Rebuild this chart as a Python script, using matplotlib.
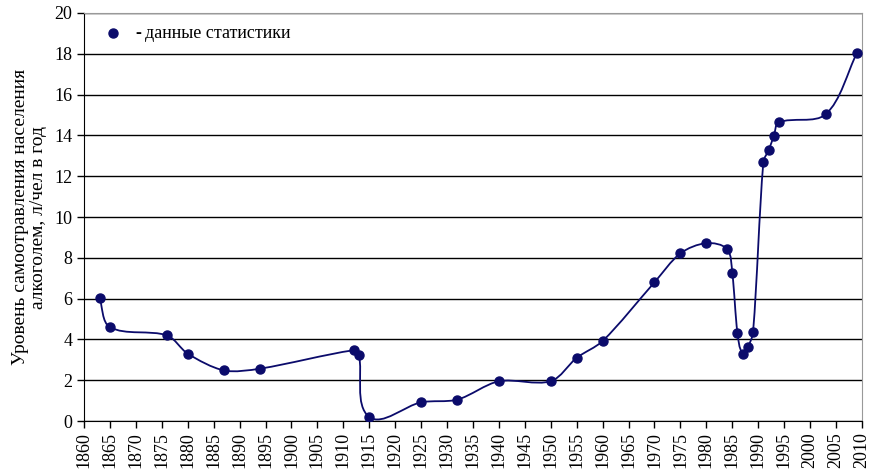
import matplotlib.pyplot as plt
from matplotlib.path import Path
from matplotlib.patches import PathPatch
import numpy as np

plt.rcParams['font.family'] = ['Liberation Serif', 'DejaVu Serif']

# Годы и уровень самоотравления (л/чел в год)
years = [1863, 1865, 1876, 1880, 1887, 1894, 1912, 1913, 1915, 1925, 1932,
         1940, 1950, 1955, 1960, 1970, 1975, 1980, 1984, 1985, 1986, 1987,
         1988, 1989, 1991, 1992, 1993, 1994, 2003, 2009]
level = [6.05, 4.6, 4.2, 3.3, 2.48, 2.57, 3.47, 3.25, 0.2, 0.92, 1.05,
         1.95, 1.95, 3.1, 3.92, 6.8, 8.22, 8.72, 8.43, 7.25, 4.31, 3.3,
         3.62, 4.35, 12.71, 13.27, 13.96, 14.64, 15.03, 18.02]
xticks = list(range(1860, 2011, 5))
yticks = list(range(0, 21, 2))

navy = '#0b0b6b'

fig = plt.figure(figsize=(8.78, 4.72), dpi=100)
ax = fig.add_axes([0.0957, 0.108, 0.886, 0.8645])
ax.set_xlim(1860, 2010)
ax.set_ylim(0, 20)


# сглаженная линия: кубические кривые Безье, касательные считаются в пикселях
def smooth_path(x, y, k=0.3):
    tr = ax.transData
    pts = tr.transform(np.column_stack([x, y]))
    n = len(pts)
    tang = []
    for i in range(n):
        a = pts[max(i - 1, 0)]
        b = pts[min(i + 1, n - 1)]
        d = b - a
        tang.append(d / (np.hypot(*d) or 1))
    verts = [pts[0]]
    codes = [Path.MOVETO]
    for i in range(n - 1):
        seg = np.hypot(*(pts[i + 1] - pts[i]))
        verts += [pts[i] + tang[i] * seg * k,
                  pts[i + 1] - tang[i + 1] * seg * k,
                  pts[i + 1]]
        codes += [Path.CURVE4] * 3
    inv = tr.inverted()
    return Path(inv.transform(np.array(verts)), codes)


ax.add_patch(PathPatch(smooth_path(years, level), facecolor='none',
                       edgecolor=navy, lw=1.3, zorder=3))
ax.plot(years, level, 'o', color=navy, ms=6.5, zorder=4)

ax.set_xticks(xticks)
ax.set_xticklabels([str(v) for v in xticks], rotation=90)
ax.set_yticks(yticks)
ax.tick_params(axis='both', labelsize=13, direction='out', length=5,
               width=1, color='black')
ax.tick_params(axis='x', pad=3)
ax.grid(axis='y', color='black', lw=1)
ax.set_axisbelow(True)
for s in ['top', 'right']:
    ax.spines[s].set_color('#999999')
ax.spines['left'].set_color('black')
ax.spines['bottom'].set_color('black')

ax.set_ylabel('Уровень самоотравления населения\nалкоголем, л/чел в год',
              fontsize=14, labelpad=5, linespacing=1.12)

# легенда
ax.plot([1865.6], [19.0], 'o', color=navy, ms=6.5, clip_on=False)
ax.text(1869.9, 19.0, '-', fontsize=13, fontweight='bold', va='center')
ax.text(1871.8, 19.0, 'данные статистики', fontsize=13, va='center')

fig.savefig('out.png', dpi=100)
